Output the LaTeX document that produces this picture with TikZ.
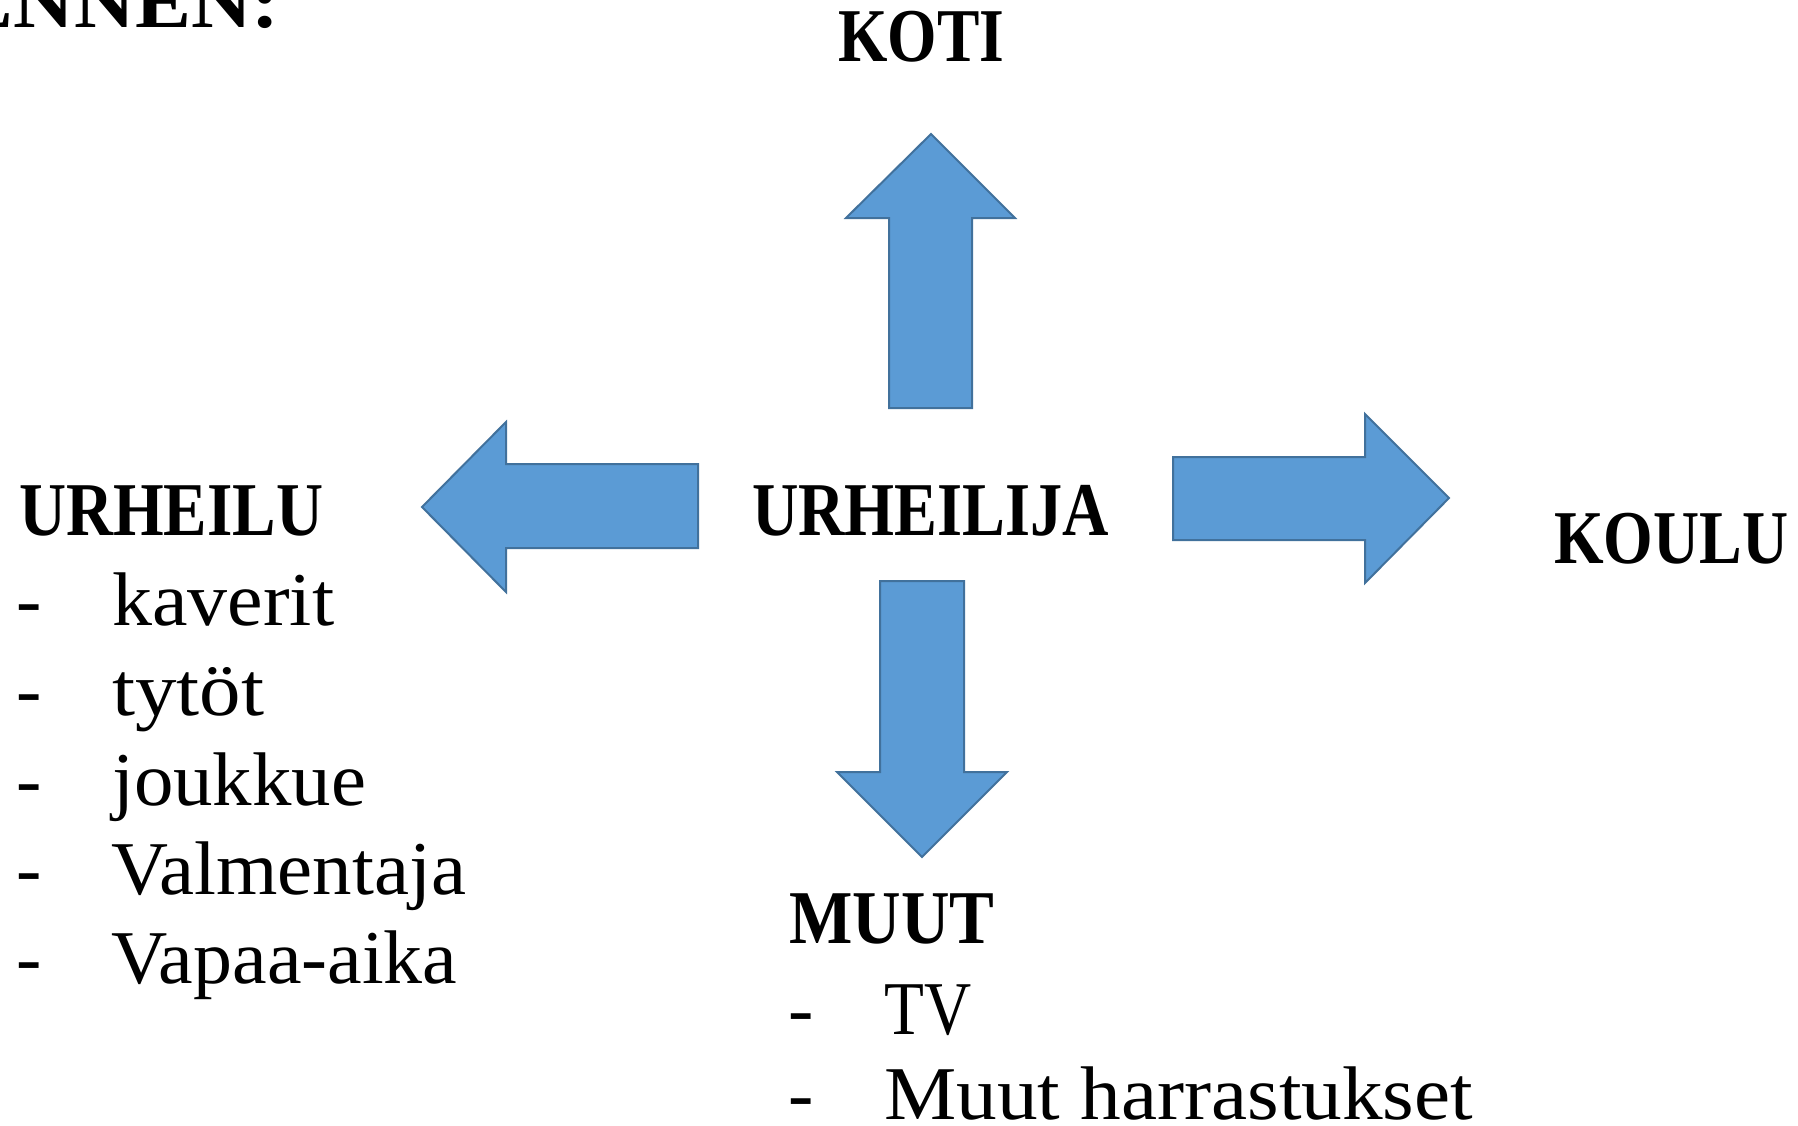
\documentclass[tikz,border=0pt]{standalone}
\usepackage{fontspec}
\setmainfont{Liberation Serif}
\usepackage{graphicx}
\definecolor{arrowfill}{HTML}{5B9BD5}
\definecolor{arrowline}{HTML}{41719C}
\newcommand\fitw[2]{\resizebox{#1pt}{\height}{#2}}
\newcommand\nodepth[1]{\raisebox{0pt}[\height][0pt]{#1}}
\tikzset{
  blockarrow/.style={fill=arrowfill, draw=arrowline, line width=2pt, line join=miter},
  headtxt/.style={font=\fontsize{76}{80}\selectfont\bfseries, inner sep=0pt, anchor=base west},
  itemtxt/.style={font=\fontsize{76}{80}\selectfont, inner sep=0pt, anchor=base west},
}
\begin{document}
\begin{tikzpicture}[x=1pt,y=-1pt]
\useasboundingbox (0,0) rectangle (1798,1126);
\clip (0,0) rectangle (1798,1126);
\fill[white] (0,0) rectangle (1798,1126);

% block arrows
\draw[blockarrow] (931,134) -- (1015,218) -- (972,218) -- (972,408) -- (889,408) -- (889,218) -- (846,218) -- cycle;
\draw[blockarrow] (422,507) -- (506,422) -- (506,464) -- (698,464) -- (698,548) -- (506,548) -- (506,592) -- cycle;
\draw[blockarrow] (1449,498) -- (1365,414) -- (1365,457) -- (1173,457) -- (1173,540) -- (1365,540) -- (1365,583) -- cycle;
\draw[blockarrow] (922,857) -- (1007,772) -- (964,772) -- (964,581) -- (880,581) -- (880,772) -- (837,772) -- cycle;

% headings
\node[headtxt, anchor=base east] (ennen) at (280,28) {\fitw{322}{ENNEN:}};
\node[headtxt] (koti) at (838,62) {\fitw{166}{KOTI}};
\node[headtxt] (urheilija) at (752,535) {\fitw{357}{URHEILIJA}};
\node[headtxt] (urheilu) at (19,535) {\fitw{304}{URHEILU}};
\node[headtxt] (koulu) at (1554,563) {\fitw{234}{KOULU}};
\node[headtxt] (muut) at (789,943) {\fitw{205}{MUUT}};

% URHEILU list
\node[itemtxt] (d1) at (16,625) {-};
\node[itemtxt] (i1) at (112,625) {\fitw{222}{kaverit}};
\node[itemtxt] (d2) at (16,715) {-};
\node[itemtxt] (i2) at (112,715) {\fitw{152}{tytöt}};
\node[itemtxt] (d3) at (16,805) {-};
\node[itemtxt] (i3) at (112,805) {\fitw{254}{joukkue}};
\node[itemtxt] (d4) at (16,894) {-};
\node[itemtxt] (i4) at (111,894) {\fitw{355}{Valmentaja}};
\node[itemtxt] (d5) at (16,983) {-};
\node[itemtxt] (i5) at (111,983) {\fitw{346}{Vapaa-aika}};

% MUUT list
\node[itemtxt] (d6) at (788,1034) {-};
\node[itemtxt] (i6) at (884,1034) {\fitw{87}{TV}};
\node[itemtxt] (d7) at (788,1119) {\nodepth{-}};
\node[itemtxt] (i7) at (884,1119) {\nodepth{\fitw{589}{Muut harrastukset}}};
\end{tikzpicture}
\end{document}
